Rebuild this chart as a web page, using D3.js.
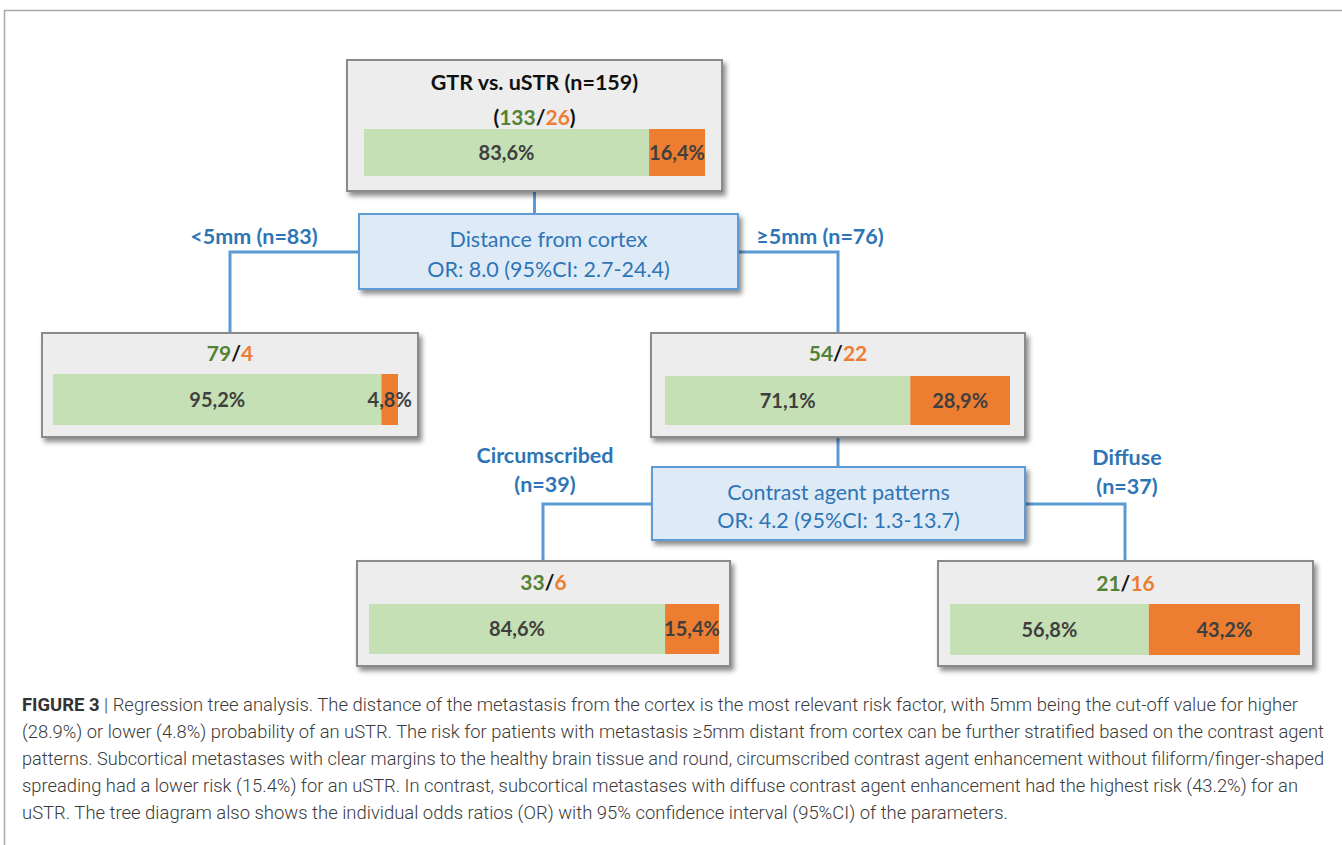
<!DOCTYPE html>
<html><head><meta charset="utf-8">
<script src="https://cdn.jsdelivr.net/npm/d3@7"></script>
<style>
html,body{margin:0;padding:0;background:#fff;}
svg{display:block;}
</style></head>
<body>
<svg id="chart" width="1342" height="845"></svg>
<script>
// ---- data ----
const nodeIds = ["root", "near", "far", "circ", "diff"];
const nodeTitles = ["GTR vs. uSTR (n=159)", "", "", "", ""];
const gtrCounts = [133, 79, 54, 33, 21];
const ustrCounts = [26, 4, 22, 6, 16];
const gtrPct = [83.6, 95.2, 71.1, 84.6, 56.8];
const ustrPct = [16.4, 4.8, 28.9, 15.4, 43.2];
const splitTitles = ["Distance from cortex", "Contrast agent patterns"];
const splitStats = ["OR: 8.0 (95%CI: 2.7-24.4)", "OR: 4.2 (95%CI: 1.3-13.7)"];
const branchLabels = [["<5mm (n=83)"], ["≥5mm (n=76)"], ["Circumscribed", "(n=39)"], ["Diffuse", "(n=37)"]];
const captionLines = [
  ["FIGURE 3", " | Regression tree analysis. The distance of the metastasis from the cortex is the most relevant risk factor, with 5mm being the cut-off value for higher"],
  ["", "(28.9%) or lower (4.8%) probability of an uSTR. The risk for patients with metastasis ≥5mm distant from cortex can be further stratified based on the contrast agent"],
  ["", "patterns. Subcortical metastases with clear margins to the healthy brain tissue and round, circumscribed contrast agent enhancement without filiform/finger-shaped"],
  ["", "spreading had a lower risk (15.4%) for an uSTR. In contrast, subcortical metastases with diffuse contrast agent enhancement had the highest risk (43.2%) for an"],
  ["", "uSTR. The tree diagram also shows the individual odds ratios (OR) with 95% confidence interval (95%CI) of the parameters."]
];

// ---- layout (positions only) ----
const layout = {
  root: {x: 347, y: 60, w: 375, h: 131, bx: 364, by: 129, bw: 341, bh: 47, cy: 118},
  near: {x: 42, y: 333, w: 376, h: 104, bx: 53, by: 374, bw: 345, bh: 51, cy: 354},
  far:  {x: 651, y: 333, w: 374, h: 104, bx: 665, by: 376, bw: 345, bh: 49, cy: 354},
  circ: {x: 357, y: 561, w: 373, h: 105, bx: 369, by: 604, bw: 350, bh: 50, cy: 583},
  diff: {x: 938, y: 561, w: 375, h: 105, bx: 950, by: 604, bw: 350, bh: 51, cy: 584}
};
const splitBoxes = [{x: 359, y: 214, w: 379, h: 75}, {x: 652, y: 467, w: 373, h: 73}];
const captionWidths = [1276, 1302, 1302, 1276, 986];

const C = {
  boxFill: "#ededed", boxStroke: "#8a8a8a", green: "#c5e0b4", orange: "#ed7d31",
  gText: "#548235", oText: "#ed7d31", pct: "#3f3f3f", blue: "#5b9bd5", blueFill: "#deebf7", blueText: "#2e75b6"
};
const FONT = "Lato, 'Open Sans', sans-serif";

const svg = d3.select("#chart");
const defs = svg.append("defs");
const f = defs.append("filter").attr("id", "sh").attr("x", "-5%").attr("y", "-5%").attr("width", "115%").attr("height", "125%");
f.append("feDropShadow").attr("dx", 3).attr("dy", 4).attr("stdDeviation", 2.5).attr("flood-color", "#000").attr("flood-opacity", 0.45);

// outer frame
svg.append("path").attr("d", d3.line()([[4.5, 845], [4.5, 10.5], [1342, 10.5]]))
  .attr("fill", "none").attr("stroke", "#a8a8a8").attr("stroke-width", 1.5);

// connectors
const conn = svg.append("g").attr("fill", "none").attr("stroke", C.blue).attr("stroke-width", 3);
const line = d3.line();
const rc = layout.root.x + layout.root.w / 2;
conn.append("path").attr("d", line([[rc, layout.root.y + layout.root.h], [rc, splitBoxes[0].y]]));
conn.append("path").attr("d", line([[splitBoxes[0].x, 252], [230, 252], [230, layout.near.y]]));
conn.append("path").attr("d", line([[splitBoxes[0].x + splitBoxes[0].w, 252], [838, 252], [838, layout.far.y]]));
conn.append("path").attr("d", line([[838, layout.far.y + layout.far.h], [838, splitBoxes[1].y]]));
conn.append("path").attr("d", line([[splitBoxes[1].x, 504], [543, 504], [543, layout.circ.y]]));
conn.append("path").attr("d", line([[splitBoxes[1].x + splitBoxes[1].w, 504], [1125, 504], [1125, layout.diff.y]]));

// split boxes
splitBoxes.forEach((b, i) => {
  const g = svg.append("g");
  g.append("rect").attr("x", b.x).attr("y", b.y).attr("width", b.w).attr("height", b.h)
    .attr("fill", C.blueFill).attr("stroke", C.blue).attr("stroke-width", 2).attr("filter", "url(#sh)");
  g.append("text").attr("x", b.x + b.w / 2).attr("y", b.y + 33).attr("text-anchor", "middle")
    .attr("font-family", FONT).attr("font-size", 21.5).attr("fill", C.blueText).text(splitTitles[i]);
  g.append("text").attr("x", b.x + b.w / 2).attr("y", b.y + b.h / 2 + 25 + (i ? -1 : 0)).attr("text-anchor", "middle")
    .attr("font-family", FONT).attr("font-size", 21.5).attr("fill", C.blueText).text(splitStats[i]);
});

// branch labels
const labelPos = [[254, 244], [820, 244], [545, 463], [1127, 465]];
branchLabels.forEach((lines, i) => {
  lines.forEach((t, j) => {
    svg.append("text").attr("x", labelPos[i][0]).attr("y", labelPos[i][1] + j * 29).attr("text-anchor", "middle")
      .attr("font-family", FONT).attr("font-size", 21.5).attr("font-weight", 700).attr("fill", C.blueText).text(t);
  });
});

// nodes
nodeIds.forEach((id, i) => {
  const L = layout[id];
  const g = svg.append("g");
  g.append("rect").attr("x", L.x).attr("y", L.y).attr("width", L.w).attr("height", L.h)
    .attr("fill", C.boxFill).attr("stroke", C.boxStroke).attr("stroke-width", 2).attr("filter", "url(#sh)");
  const cx = L.x + L.w / 2;
  if (nodeTitles[i]) {
    g.append("text").attr("x", cx).attr("y", L.y + 30).attr("text-anchor", "middle")
      .attr("font-family", FONT).attr("font-size", 21.5).attr("font-weight", 700).attr("fill", "#111").text(nodeTitles[i]);
  }
  const t = g.append("text").attr("x", cx).attr("y", L.cy + 7).attr("text-anchor", "middle")
    .attr("font-family", FONT).attr("font-size", 21).attr("font-weight", 700);
  if (nodeTitles[i]) t.append("tspan").attr("fill", "#111").text("(");
  t.append("tspan").attr("fill", C.gText).text(gtrCounts[i]);
  t.append("tspan").attr("fill", "#111").text("/");
  t.append("tspan").attr("fill", C.oText).text(ustrCounts[i]);
  if (nodeTitles[i]) t.append("tspan").attr("fill", "#111").text(")");

  const x = d3.scaleLinear().domain([0, 100]).range([L.bx, L.bx + L.bw]);
  g.append("rect").attr("x", x(0)).attr("y", L.by).attr("width", x(gtrPct[i]) - x(0)).attr("height", L.bh).attr("fill", C.green);
  g.append("rect").attr("x", x(gtrPct[i])).attr("y", L.by).attr("width", x(100) - x(gtrPct[i])).attr("height", L.bh).attr("fill", C.orange);
  const fmt = v => v.toFixed(1).replace(".", ",") + "%";
  g.append("text").attr("x", (x(0) + x(gtrPct[i])) / 2).attr("y", L.by + L.bh / 2 + 7).attr("text-anchor", "middle")
    .attr("font-family", FONT).attr("font-size", 20).attr("font-weight", 700).attr("fill", C.pct).text(fmt(gtrPct[i]));
  g.append("text").attr("x", (x(gtrPct[i]) + x(100)) / 2).attr("y", L.by + L.bh / 2 + 7).attr("text-anchor", "middle")
    .attr("font-family", FONT).attr("font-size", 20).attr("font-weight", 700).attr("fill", C.pct).text(fmt(ustrPct[i]));
});

// caption
const cap = svg.append("g").attr("font-family", "Roboto, 'Liberation Sans', sans-serif").attr("font-size", 17.5).attr("fill", "#3a3a3a");
captionLines.forEach((ln, j) => {
  const t = cap.append("text").attr("x", 22).attr("y", 711 + j * 27).attr("font-weight", 300)
    .attr("textLength", captionWidths[j]).attr("lengthAdjust", "spacingAndGlyphs");
  if (ln[0]) t.append("tspan").attr("font-weight", 700).attr("fill", "#333").text(ln[0]);
  t.append("tspan").text(ln[1]);
});
</script>
</body></html>
